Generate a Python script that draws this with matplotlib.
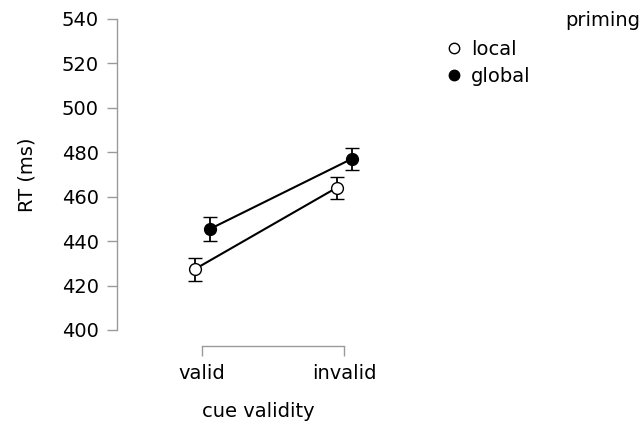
import matplotlib
matplotlib.use("Agg")
import matplotlib.pyplot as plt
from matplotlib.lines import Line2D
import numpy as np

categories = ["valid", "invalid"]
local_rt = [427.3, 464.0]
local_err = [5.2, 5.0]
global_rt = [445.4, 477.0]
global_err = [5.4, 5.0]
yticks = [400, 420, 440, 460, 480, 500, 520, 540]

plt.rcParams['font.family'] = ['DejaVu Sans']
fig = plt.figure(figsize=(6.42, 4.21), dpi=100)
ax = fig.add_axes([117/642, 1-330/421, 283/642, 311/421])

x = np.arange(len(categories))
dodge = 0.053
ax.errorbar(x - dodge, local_rt, yerr=local_err, color='k', lw=1.5,
            marker='o', ms=8.5, mfc='white', mec='k', mew=1.0,
            capsize=5, capthick=1.3, elinewidth=1.3, zorder=3)
ax.errorbar(x + dodge, global_rt, yerr=global_err, color='k', lw=1.5,
            marker='o', ms=8.5, mfc='k', mec='k', mew=1.0,
            capsize=5, capthick=1.3, elinewidth=1.3, zorder=3)

ax.set_xlim(-0.599, 1.394)
ax.set_ylim(400, 540)
ax.set_xticks(x)
ax.set_xticklabels(categories)
ax.set_yticks(yticks)

for s in ['top', 'right']:
    ax.spines[s].set_visible(False)
ax.spines['left'].set_bounds(400, 540)
ax.spines['bottom'].set_bounds(0, 1)
ax.spines['bottom'].set_position(('outward', 11.5))
for s in ['left', 'bottom']:
    ax.spines[s].set_color('#9a9a9a')
    ax.spines[s].set_linewidth(1.0)
ax.tick_params(axis='both', colors='#9a9a9a', length=7, width=1.0,
               labelcolor='black', labelsize=14, pad=6)

ax.set_ylabel("RT (ms)", fontsize=14, labelpad=18)
ax.set_xlabel("cue validity", fontsize=14, labelpad=14)

fig.text(640/642, 1-20/421, "priming", fontsize=14, ha='right', va='center')
handles = [
    Line2D([], [], ls='none', marker='o', ms=7.5, mfc='white', mec='k', mew=1.0),
    Line2D([], [], ls='none', marker='o', ms=7.5, mfc='k', mec='k'),
]
fig.legend(handles, ["local", "global"], loc='upper left',
           bbox_to_anchor=(446/642, 1-40/421), frameon=False,
           fontsize=14, handlelength=0.8, handletextpad=0.5,
           labelspacing=0.4, borderaxespad=0, borderpad=0)

fig.savefig("out.png", dpi=100)
